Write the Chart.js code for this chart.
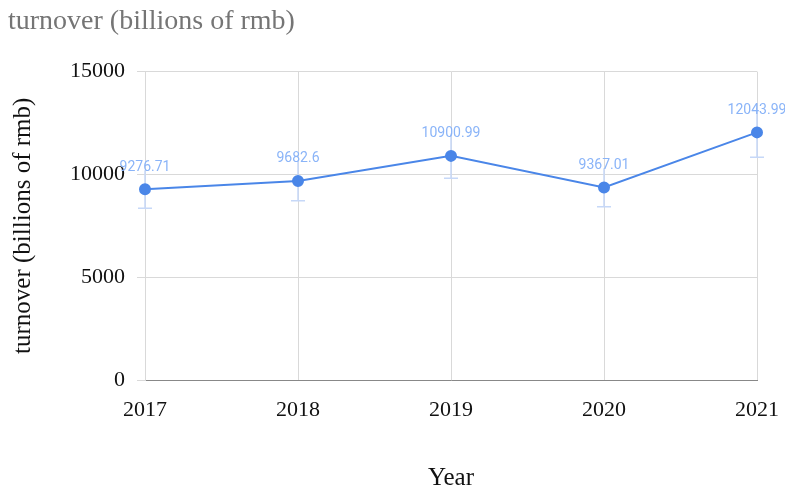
<!DOCTYPE html>
<html>
<head>
<meta charset="utf-8">
<script src="https://cdn.jsdelivr.net/npm/chart.js@4/dist/chart.umd.min.js"></script>
<style>
  html, body { margin: 0; padding: 0; background: #fff; }
  #wrap { width: 785px; height: 490px; }
</style>
</head>
<body>
<div id="wrap"><canvas id="turnoverChart"></canvas></div>
<script>
// dados do gráfico
const years = ['2017', '2018', '2019', '2020', '2021'];
const turnover = [9276.71, 9682.6, 10900.99, 9367.01, 12043.99];
const yTicks = [0, 5000, 10000, 15000];
const errorPercent = 10; // barras de erro em percentagem

const lineColor = '#4a86e8';
const labelColor = '#8ab4f8';
const errorColor = '#c6d8f8';

// barras de erro (desenhadas por baixo da linha)
const errorBars = {
    id: 'errorBars',
    beforeDatasetsDraw(chart) {
        const ctx = chart.ctx;
        const y = chart.scales.y;
        const meta = chart.getDatasetMeta(0);
        ctx.save();
        ctx.strokeStyle = errorColor;
        ctx.lineWidth = 1.5;
        meta.data.forEach((pt, i) => {
            const v = turnover[i];
            const lo = y.getPixelForValue(v * (1 - errorPercent / 100));
            const hi = y.getPixelForValue(v * (1 + errorPercent / 100));
            ctx.beginPath();
            ctx.moveTo(pt.x, hi);
            ctx.lineTo(pt.x, lo);
            ctx.moveTo(pt.x - 7, lo);
            ctx.lineTo(pt.x + 7, lo);
            ctx.stroke();
        });
        ctx.restore();
    }
};

// rótulos com os valores
const valueLabels = {
    id: 'valueLabels',
    afterDatasetsDraw(chart) {
        const ctx = chart.ctx;
        const meta = chart.getDatasetMeta(0);
        ctx.save();
        ctx.font = "14px Roboto, sans-serif";
        ctx.fillStyle = labelColor;
        ctx.textAlign = 'center';
        ctx.textBaseline = 'middle';
        meta.data.forEach((pt, i) => {
            ctx.fillText(String(turnover[i]), pt.x, pt.y - 22);
        });
        ctx.restore();
    }
};

const serif = "'Liberation Serif', 'DejaVu Serif', serif";

new Chart(document.getElementById('turnoverChart'), {
    type: 'line',
    data: {
        labels: years,
        datasets: [{
            data: turnover,
            borderColor: lineColor,
            backgroundColor: lineColor,
            borderWidth: 2,
            pointRadius: 5,
            pointHoverRadius: 5,
            tension: 0
        }]
    },
    options: {
        responsive: true,
        maintainAspectRatio: false,
        animation: false,
        layout: { padding: { top: 0, right: 28, bottom: 0, left: 8 } },
        plugins: {
            legend: { display: false },
            tooltip: { enabled: false },
            title: {
                display: true,
                text: 'turnover (billions of rmb)',
                align: 'start',
                color: '#757575',
                font: { family: serif, size: 28, weight: 'normal' },
                padding: { top: 5, bottom: 33 }
            }
        },
        scales: {
            x: {
                offset: false,
                grid: { color: '#d9d9d9', drawTicks: false },
                border: { color: '#888888', width: 1 },
                ticks: { color: '#111', font: { family: serif, size: 22 }, padding: 17, maxRotation: 0 },
                title: {
                    display: true,
                    text: 'Year',
                    color: '#111',
                    font: { family: serif, size: 25 },
                    padding: { top: 0, bottom: -3 }
                },
                afterFit(scale) {
                    scale.height = 110;
                    scale.paddingLeft = 0;
                    scale.paddingRight = 0;
                }
            },
            y: {
                min: 0,
                max: 15000,
                afterBuildTicks(scale) { scale.ticks = yTicks.map(v => ({ value: v })); },
                grid: { color: '#d9d9d9', tickLength: 8 },
                border: { color: '#d9d9d9' },
                ticks: {
                    color: '#111',
                    font: { family: serif, size: 22 },
                    padding: 12,
                    callback: v => String(v)
                },
                title: {
                    display: true,
                    text: 'turnover (billions of rmb)',
                    color: '#111',
                    font: { family: serif, size: 25 },
                    padding: { top: 0, bottom: 0 }
                },
                afterFit(scale) { scale.width = 137; }
            }
        }
    },
    plugins: [errorBars, valueLabels]
});
</script>
</body>
</html>
